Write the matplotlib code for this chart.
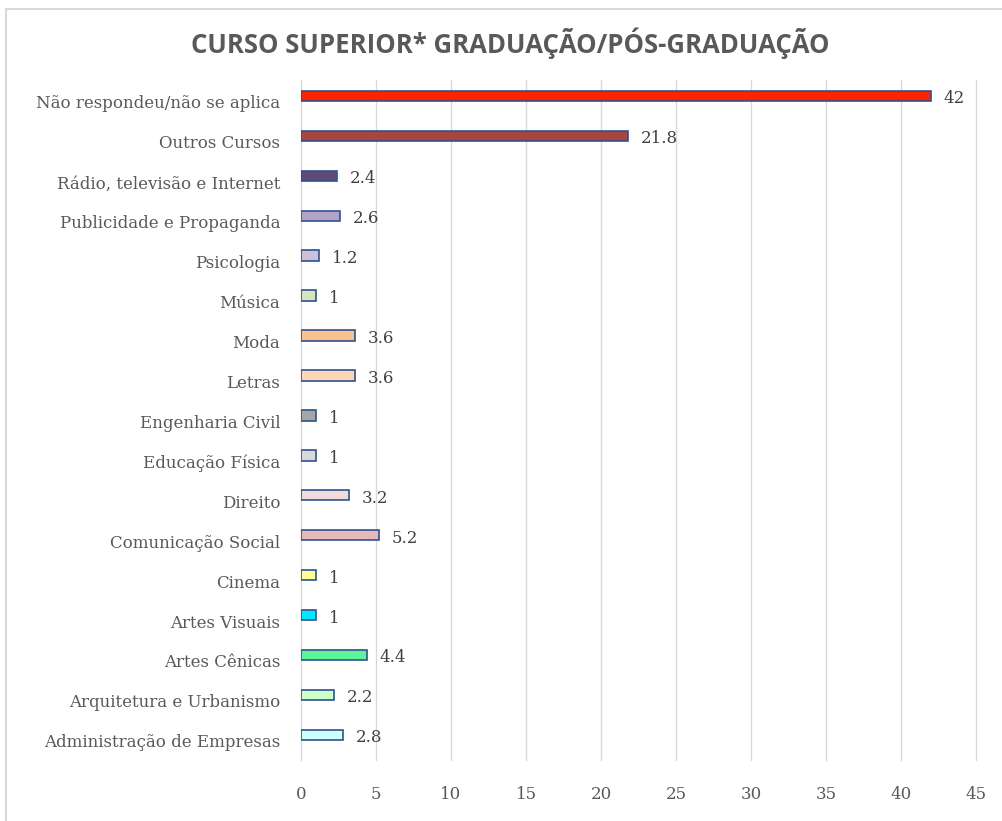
import matplotlib
matplotlib.use("Agg")
import matplotlib.pyplot as plt
from matplotlib.patches import Rectangle
from matplotlib.transforms import ScaledTranslation

# categories listed from bottom to top
cursos = [
    "Administração de Empresas",
    "Arquitetura e Urbanismo",
    "Artes Cênicas",
    "Artes Visuais",
    "Cinema",
    "Comunicação Social",
    "Direito",
    "Educação Física",
    "Engenharia Civil",
    "Letras",
    "Moda",
    "Música",
    "Psicologia",
    "Publicidade e Propaganda",
    "Rádio, televisão e Internet",
    "Outros Cursos",
    "Não respondeu/não se aplica",
]
valores = [2.8, 2.2, 4.4, 1, 1, 5.2, 3.2, 1, 1, 3.6, 3.6, 1, 1.2, 2.6, 2.4, 21.8, 42]
cores = [
    "#CCFFFF", "#CCFFCC", "#5EF59A", "#00E8FF", "#FFFF99", "#E6B9B8",
    "#F2DCDB", "#D9D9D9", "#A6A6A6", "#FCD5B5", "#FAC090", "#D7E4BD",
    "#CCC1DA", "#B3A2C7", "#604A7B", "#A5463F", "#FF2200",
]
xticks = [0, 5, 10, 15, 20, 25, 30, 35, 40, 45]

serif = "DejaVu Serif"
cinza = "#595959"
fs = 12

fig = plt.figure(figsize=(10.03, 8.21), dpi=100)
fig.patches.append(Rectangle((6 / 1003, -0.1), 1.2, 1 - 9 / 821 + 0.1,
                             transform=fig.transFigure, fill=False,
                             edgecolor="#D9D9D9", linewidth=1.5))

ax = fig.add_axes([301 / 1003, 1 - 760 / 821, (976 - 301) / 1003, 680 / 821])
pos = list(range(len(cursos)))
ax.barh(pos, valores, height=0.26, color=cores, edgecolor="#2F528F", linewidth=1.2, zorder=3)

desce_val = ScaledTranslation(0, -3 / 100, fig.dpi_scale_trans)
desce_cat = ScaledTranslation(0, -6 / 100, fig.dpi_scale_trans)
for p, v in zip(pos, valores):
    ax.text(v + 0.85, p, f"{v:g}", va="center", ha="left", fontsize=fs,
            family=serif, color="#404040", transform=ax.transData + desce_val)

ax.set_xlim(0, 45)
ax.set_ylim(-0.63, 16.4)
ax.set_xticks(xticks)
ax.set_yticks(pos)
ax.set_yticklabels(cursos, family=serif, fontsize=fs, color=cinza)
ax.tick_params(axis="x", labelsize=fs, colors=cinza, length=0, pad=19)
ax.tick_params(axis="y", length=0, pad=15)
for lab in ax.get_xticklabels():
    lab.set_family(serif)
for lab in ax.get_yticklabels():
    lab.set_transform(lab.get_transform() + desce_cat)
ax.grid(axis="x", color="#D9D9D9", linewidth=1, zorder=0)
for gl in ax.get_xgridlines():
    gl.set_clip_on(False)
for s in ax.spines.values():
    s.set_visible(False)

fig.text(510 / 1003, 1 - 43 / 821, "CURSO SUPERIOR* GRADUAÇÃO/PÓS-GRADUAÇÃO",
         ha="center", va="center", fontsize=18.5, fontweight="bold",
         family="Open Sans", color=cinza)

fig.savefig("out.png", dpi=100)
